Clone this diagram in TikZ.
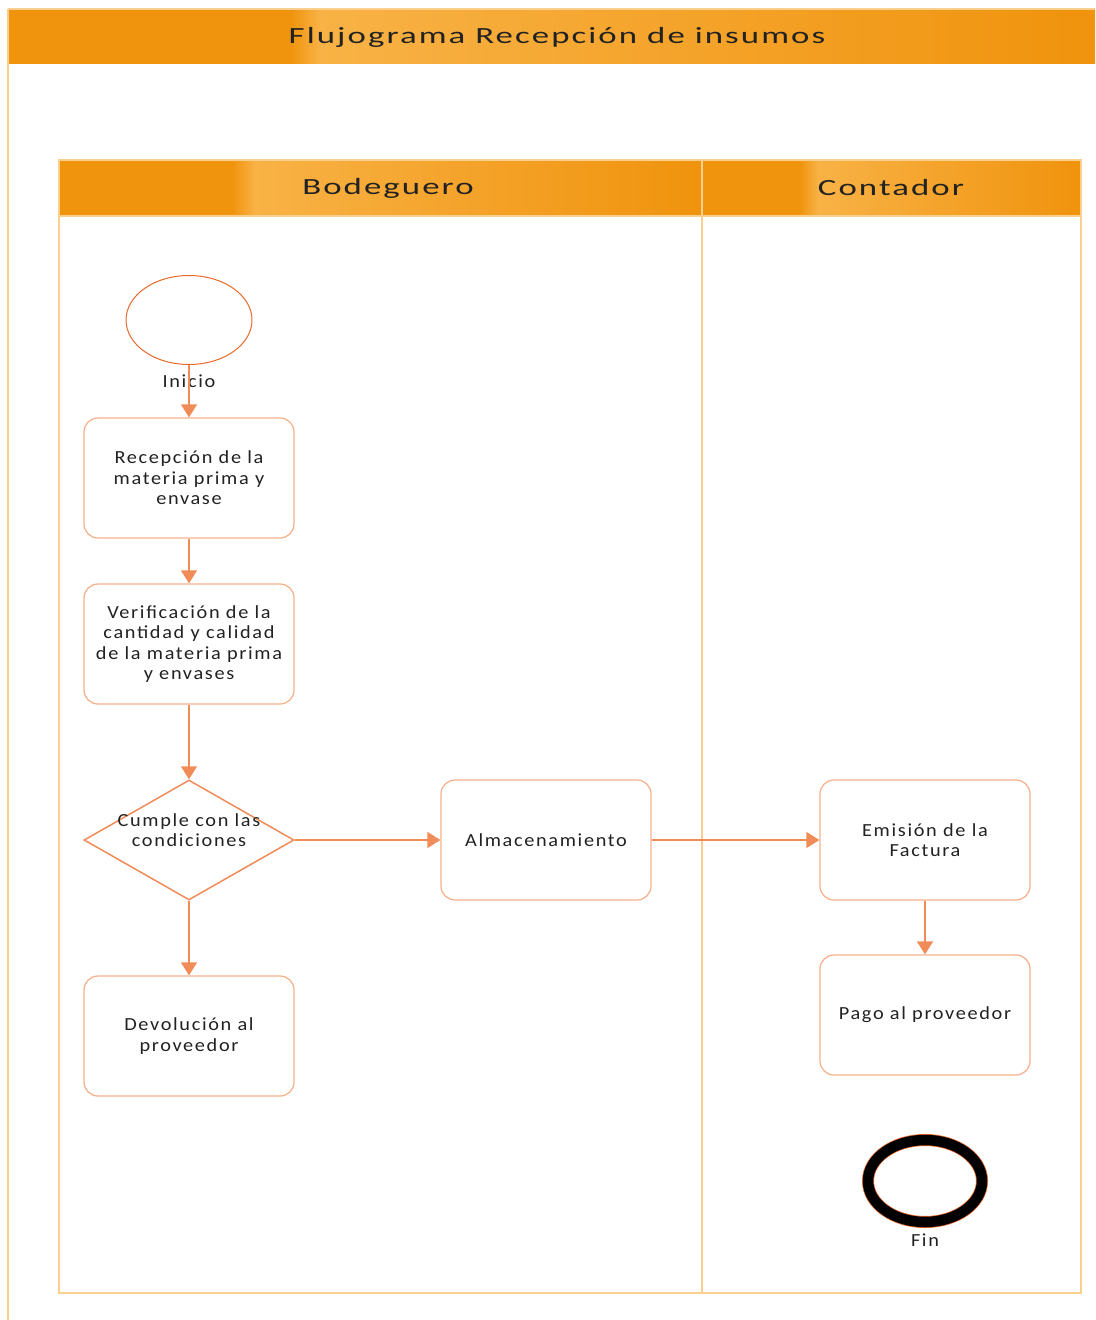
\documentclass[tikz,border=0pt]{standalone}
\usepackage{fontspec}
\setmainfont{Carlito}
\newfontfamily\titlefont{Carlito}[FakeStretch=1.5,LetterSpace=9]
\newfontfamily\boxfont{Carlito}[FakeStretch=1.1,LetterSpace=9]
\usetikzlibrary{shapes.geometric,arrows.meta}

\definecolor{lanedark}{HTML}{F0930D}
\definecolor{lanelight}{HTML}{F8B245}
\definecolor{laneline}{HTML}{FBD08E}
\definecolor{boxline}{HTML}{F6B18C}
\definecolor{arrowcol}{HTML}{F08C58}
\definecolor{iniciocol}{HTML}{E86A2A}
\definecolor{textcol}{HTML}{222222}

\begin{document}
\begin{tikzpicture}[x=0.2mm,y=-0.2mm,
    box/.style={draw=boxline, line width=0.25mm, rounded corners=2.8mm, minimum width=42mm, minimum height=24mm, align=center, text=textcol, font=\boxfont\fontsize{10.5}{11.7}\selectfont},
    decision/.style={draw=arrowcol, line width=0.3mm, diamond, inner sep=0pt, minimum width=42mm, minimum height=24mm},
    txt/.style={align=center, text=textcol, font=\boxfont\fontsize{10.5}{11.7}\selectfont},
    head/.style={text=textcol, font=\titlefont\fontsize{13.2}{15}\selectfont},
    flow/.style={draw=arrowcol, line width=0.3mm, -{Triangle[length=2.6mm,width=3.2mm]}}]
    \useasboundingbox (0,0) rectangle (1095,1320);
    \fill[white] (0,0) rectangle (1095,1320);
    % title bar
    \fill[lanedark] (8,9) rectangle (1095,64);
    \shade[left color=lanedark, right color=lanelight] (290,9) rectangle (320,64);
    \shade[left color=lanelight, right color=lanedark] (320,9) rectangle (1095,64);
    \draw[laneline, line width=0.4mm] (8,9) -- (1095,9);
    \draw[laneline, line width=0.4mm] (8,9) -- (8,1320);
    \node[head] (titulo) at (557,37) {Flujograma Recepción de insumos};
    % lanes
    \fill[lanedark] (59,160) rectangle (1081,216);
    \shade[left color=lanedark, right color=lanelight] (232,160) rectangle (255,216);
    \shade[left color=lanelight, right color=lanedark] (255,160) rectangle (701,216);
    \shade[left color=lanedark, right color=lanelight] (800,160) rectangle (818,216);
    \shade[left color=lanelight, right color=lanedark] (818,160) rectangle (1081,216);
    \draw[laneline, line width=0.4mm] (59,160) rectangle (1081,1293);
    \draw[laneline, line width=0.4mm] (701.5,160) -- (701.5,1293);
    \draw[laneline, line width=0.4mm] (59,216) -- (1081,216);
    \node[head] (bodeguero) at (388,188) {Bodeguero};
    \node[head] (contador) at (891,188) {Contador};

    \node[draw=iniciocol, line width=0.2mm, ellipse, minimum width=25.2mm, minimum height=17.8mm, label={[txt, label distance=0.8mm]below:Inicio}] (inicio) at (189,320) {};
    \node[box] (recepcion) at (189,478) {Recepción de la\\materia prima y\\envase};
    \node[box] (verificacion) at (189,644) {Verificación de la\\cantidad y calidad\\de la materia prima\\y envases};
    \node[decision, label={[txt, yshift=2mm]center:Cumple con las\\condiciones}] (cumple) at (189,840) {};
    \node[box] (almacen) at (546,840) {Almacenamiento};
    \node[box] (devolucion) at (189,1036) {Devolución al\\proveedor};
    \node[box] (emision) at (925,840) {Emisión de la\\Factura};
    \node[box] (pago) at (925,1015) {Pago al proveedor};
    \node[draw=black, line width=2.1mm, preaction={draw=iniciocol, line width=2.4mm}, ellipse, minimum width=22.8mm, minimum height=16.4mm, label={[txt]below:Fin}] (fin) at (925,1181) {};

    \draw[flow] (inicio) -- (recepcion);
    \draw[flow] (recepcion) -- (verificacion);
    \draw[flow] (verificacion) -- (cumple);
    \draw[flow] (cumple) -- (almacen);
    \draw[flow] (cumple) -- (devolucion);
    \draw[flow] (almacen) -- (emision);
    \draw[flow] (emision) -- (pago);
\end{tikzpicture}
\end{document}
